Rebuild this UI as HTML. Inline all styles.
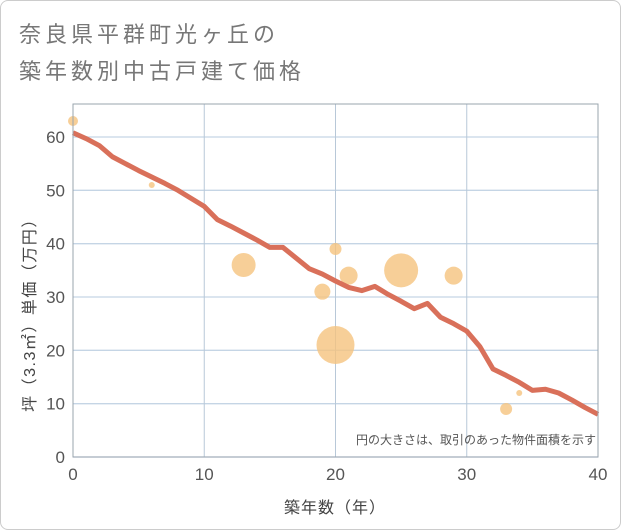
<!DOCTYPE html>
<html><head><meta charset="utf-8"><style>
body{margin:0;background:#fff;}
#wrap{width:619px;height:528px;border:1px solid #ccc;border-radius:8px;position:relative;overflow:hidden;}
text{font-family:"Liberation Sans","Noto Sans CJK JP",sans-serif;}
</style></head><body>
<div id="wrap">
<svg id="c" width="621" height="530">
<text x="18" y="41" font-size="22" letter-spacing="4" fill="#777">奈良県平群町光ヶ丘の</text>
<text x="18" y="78" font-size="22" letter-spacing="4" fill="#777">築年数別中古戸建て価格</text>
<g id="grid"></g><g id="bub"></g><g id="ln"></g><g id="ax"></g>
<text x="595" y="443" font-size="12" fill="#555" text-anchor="end">円の大きさは、取引のあった物件面積を示す</text>
<text x="334" y="512" font-size="16" letter-spacing="1" fill="#444" text-anchor="middle">築年数（年）</text>
<text transform="translate(34,310) rotate(-90)" font-size="16" letter-spacing="1.5" fill="#444" text-anchor="middle">坪（3.3㎡）単価（万円）</text>
</svg></div>
<script>
const xTicks=[0,10,20,30,40];
const yTicks=[0,10,20,30,40,50,60];
const lineYears=[0,1,2,3,4,5,6,7,8,9,10,11,12,13,14,15,16,17,18,19,20,21,22,23,24,25,26,27,28,29,30,31,32,33,34,35,36,37,38,39,40];
const lineValues=[60.8,59.7,58.4,56.3,55,53.7,52.5,51.3,50,48.5,47,44.5,43.3,42,40.7,39.3,39.3,37.3,35.3,34.3,33,31.8,31.2,32,30.5,29.2,27.8,28.8,26.2,25,23.6,20.7,16.5,15.3,14,12.5,12.7,12,10.7,9.3,8];
const bubX=[0,6,13,19,20,20,21,25,29,33,34];
const bubY=[63,51,36,31,39,21,34,35,34,9,12];
const bubR=[5,3,12,8,6,19,9,17,9,6,3];
const X0=72,X1=597,Y0=456,YT=103;
const sx=v=>X0+(X1-X0)*v/40;
const sy=v=>Y0-(Y0-136)*v/60;
const NS='http://www.w3.org/2000/svg';
function mk(t,a,p){const e=document.createElementNS(NS,t);for(const k in a)e.setAttribute(k,a[k]);p.appendChild(e);return e;}
const g=document.getElementById('grid'),ax=document.getElementById('ax');
yTicks.forEach(v=>{
 const l=mk('line',{x1:X0,x2:X1,y1:sy(v),y2:sy(v),stroke:'#c5d5e5','stroke-width':1.3},g);
 
 
 const t=mk('text',{x:X0-8,y:sy(v)+6,'font-size':17,fill:'#555','text-anchor':'end'},ax);t.textContent=v;
 
 
});
xTicks.forEach(v=>{
 const l=mk('line',{x1:sx(v),x2:sx(v),y1:YT,y2:Y0,stroke:'#b8c8d8','stroke-width':1},g);
 
 
 const t=mk('text',{x:sx(v),y:Y0+23,'font-size':17,fill:'#555','text-anchor':'middle'},ax);t.textContent=v;
 
 
});
const fr=mk('rect',{x:X0,y:YT,width:X1-X0,height:Y0-YT,fill:'none',stroke:'#99a4ae','stroke-width':1},ax);


const b=document.getElementById('bub');
bubX.forEach((x,i)=>{
 const c=mk('circle',{cx:sx(x),cy:sy(bubY[i]),r:bubR[i],fill:'#f5c37e','fill-opacity':0.8},b);
 
 
});
const p=mk('polyline',{points:lineYears.map((x,i)=>sx(x)+','+sy(lineValues[i])).join(' '),fill:'none',stroke:'#d9705a','stroke-width':5,'stroke-linejoin':'round'},document.getElementById('ln'));


</script>
</body></html>
